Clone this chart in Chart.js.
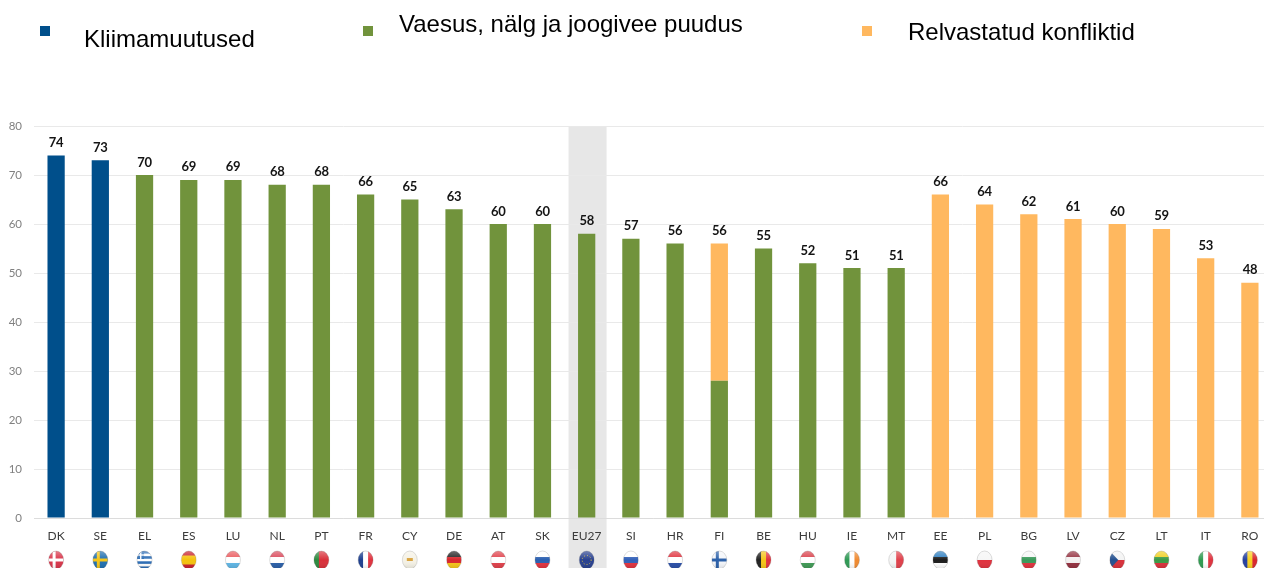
<!DOCTYPE html>
<html lang="et"><head><meta charset="utf-8">
<script src="https://cdn.jsdelivr.net/npm/chart.js@4/dist/chart.umd.min.js"></script>
<style>
html,body{margin:0;padding:0;background:#fff;width:1264px;height:568px;overflow:hidden}
#wrap{position:absolute;left:0;top:0;width:1264px;height:568px;overflow:hidden}
#box{position:absolute;left:0;top:0;width:1272px;height:568px}
.sw{position:absolute;width:10px;height:10px;top:26px}
.lg{position:absolute;font:24px "Liberation Sans",Arial,sans-serif;color:#000;white-space:nowrap;line-height:28px}
</style></head><body>
<div id="wrap">
<div id="box"><canvas id="c"></canvas></div>
<div class="sw" style="left:40px;background:#004f8b"></div>
<div class="lg" style="left:84px;top:25px">Kliimamuutused</div>
<div class="sw" style="left:363px;background:#71933c"></div>
<div class="lg" style="left:399px;top:10px">Vaesus, nälg ja joogivee puudus</div>
<div class="sw" style="left:862px;background:#ffb85f"></div>
<div class="lg" style="left:908px;top:18px">Relvastatud konfliktid</div>
</div>
<script>
const categories=["DK","SE","EL","ES","LU","NL","PT","FR","CY","DE","AT","SK","EU27","SI","HR","FI","BE","HU","IE","MT","EE","PL","BG","LV","CZ","LT","IT","RO"];
const climate=[74,73,0,0,0,0,0,0,0,0,0,0,0,0,0,0,0,0,0,0,0,0,0,0,0,0,0,0];
const poverty=[0,0,70,69,69,68,68,66,65,63,60,60,58,57,56,28,55,52,51,51,0,0,0,0,0,0,0,0];
const conflict=[0,0,0,0,0,0,0,0,0,0,0,0,0,0,0,28,0,0,0,0,66,64,62,61,60,59,53,48];
const totals=[74,73,70,69,69,68,68,66,65,63,60,60,58,57,56,56,55,52,51,51,66,64,62,61,60,59,53,48];
const yTicks=[0,10,20,30,40,50,60,70,80];
const highlighted="EU27";
const flagStripes={
DK:["h",["#d9354a"]],SE:["h",["#1f6fb0"]],EL:["h",["#2b6cb5","#fff","#2b6cb5","#fff","#2b6cb5","#fff","#2b6cb5"]],
ES:["h",["#c8202c","#f4c20d","#f4c20d","#c8202c"]],LU:["h",["#ea5a5e","#fff","#5fb6e6"]],NL:["h",["#d9485a","#fff","#2a5fa8"]],
PT:["v",["#2b8a3e","#d9303a","#d9303a"]],FR:["v",["#1d3f8f","#fff","#e0323e"]],CY:["h",["#f5f2e6"]],
DE:["h",["#222","#d9262c","#f5c518"]],AT:["h",["#e0404a","#fff","#e0404a"]],SK:["h",["#fff","#2a5fb0","#e0323e"]],
EU27:["h",["#28408f"]],SI:["h",["#fff","#3160b8","#e0323e"]],HR:["h",["#e0323e","#fff","#2a4fa8"]],
FI:["h",["#f4f6fa"]],BE:["v",["#222","#f5c518","#e0323e"]],HU:["h",["#d9404a","#fff","#3f9a55"]],
IE:["v",["#2f9a55","#fff","#f08a30"]],MT:["v",["#f4f4f4","#e0404a"]],EE:["h",["#2f7fc0","#1c1c1c","#fff"]],
PL:["h",["#f6f6f6","#e0323e"]],BG:["h",["#f6f6f6","#3a9a5a","#e0323e"]],LV:["h",["#94303f","#f4f0f0","#94303f"]],
CZ:["h",["#f4f4f4","#d9303a"]],LT:["h",["#f0d020","#3a9a45","#d9303a"]],IT:["v",["#2f9a50","#fff","#e0323e"]],RO:["v",["#2440a0","#f8d020","#d9262c"]]};
const nordicCross={DK:"#fff",SE:"#f5c518",FI:"#2a5fa8"};

const band={id:"band",beforeDraw(ch){
  const x=ch.scales.x,y=ch.scales.y,i=categories.indexOf(highlighted);
  const w=x.getPixelForValue(1)-x.getPixelForValue(0),cx=x.getPixelForValue(i),g=ch.ctx;
  g.save();g.fillStyle="#e7e7e7";
  g.fillRect(cx-w*0.41,y.getPixelForValue(80),w*0.86,ch.height-y.getPixelForValue(80));g.restore();
}};
const extras={id:"extras",afterDatasetsDraw(ch){
  const x=ch.scales.x,y=ch.scales.y,g=ch.ctx;
  g.save();g.textAlign="center";g.textBaseline="alphabetic";g.fillStyle="#141414";g.font='bold 13px Lato';g.letterSpacing="-0.3px";
  totals.forEach((v,i)=>g.fillText(String(v),x.getPixelForValue(i),y.getPixelForValue(v)-8.5));
  g.restore();
  categories.forEach((c,i)=>{
    const cx=x.getPixelForValue(i),cy=y.bottom+42,rx=7.5,ry=9,[dir,cols]=flagStripes[c];
    g.save();g.beginPath();g.ellipse(cx,cy,rx,ry,0,0,Math.PI*2);g.clip();
    cols.forEach((col,k)=>{g.fillStyle=col;
      if(dir==="h")g.fillRect(cx-rx,cy-ry+2*ry*k/cols.length,2*rx,2*ry/cols.length+.5);
      else g.fillRect(cx-rx+2*rx*k/cols.length,cy-ry,2*rx/cols.length+.5,2*ry);});
    if(nordicCross[c]){g.fillStyle=nordicCross[c];g.fillRect(cx-3.5,cy-ry,3,2*ry);g.fillRect(cx-rx,cy-1.5,2*rx,3);}
    if(c==="EL"){g.fillStyle="#2b6cb5";g.fillRect(cx-rx,cy-ry,7,8);g.fillStyle="#fff";g.fillRect(cx-rx+3,cy-ry,1.4,8);g.fillRect(cx-rx,cy-ry+3.3,7,1.4);}
    if(c==="CZ"){g.fillStyle="#24508f";g.beginPath();g.moveTo(cx-rx,cy-ry);g.lineTo(cx+1,cy);g.lineTo(cx-rx,cy+ry);g.fill();}
    if(c==="CY"){g.fillStyle="#d9a440";g.fillRect(cx-3,cy-2,6,3);}
    if(c==="EU27"){g.strokeStyle="#d8c040";g.setLineDash([1,2]);g.beginPath();g.arc(cx,cy,4.5,0,Math.PI*2);g.stroke();}
    const sh=g.createLinearGradient(0,cy-ry,0,cy+ry);sh.addColorStop(0,"rgba(255,255,255,.35)");sh.addColorStop(.5,"rgba(255,255,255,0)");sh.addColorStop(1,"rgba(0,0,0,.12)");
    g.fillStyle=sh;g.fillRect(cx-rx,cy-ry,2*rx,2*ry);g.restore();
    g.save();g.strokeStyle="rgba(120,120,120,.35)";g.lineWidth=.7;g.beginPath();g.ellipse(cx,cy,rx,ry,0,0,Math.PI*2);g.stroke();g.restore();
  });
}};
const common={stack:"s",barPercentage:1,categoryPercentage:0.39,borderWidth:0};
new Chart(document.getElementById("c"),{
  type:"bar",
  data:{labels:categories,datasets:[
    {label:"Kliimamuutused",data:climate,backgroundColor:"#004f8b",...common},
    {label:"Vaesus, nälg ja joogivee puudus",data:poverty,backgroundColor:"#71933c",...common},
    {label:"Relvastatud konfliktid",data:conflict,backgroundColor:"#ffb85f",...common}]},
  options:{responsive:true,maintainAspectRatio:false,animation:false,
    layout:{padding:{top:126,left:0,right:0,bottom:0}},
    plugins:{legend:{display:false},tooltip:{enabled:false}},
    scales:{
      x:{stacked:true,offset:true,afterFit(s){s.height=50;},
        grid:{display:false},border:{color:"#dcdcdc"},
        ticks:{color:"#3c3c3c",font:{family:"Lato",size:12},padding:3,maxRotation:0,autoSkip:false}},
      y:{stacked:true,min:0,max:80,afterFit(s){s.width=34;},
        afterBuildTicks(s){s.ticks=yTicks.map(v=>({value:v}));},
        grid:{color:"#e9e9e9",drawTicks:false},border:{display:false},
        ticks:{color:"#808080",font:{family:"Lato",size:11.5},padding:12}}
    }},
  plugins:[band,extras]
});
</script>
</body></html>
